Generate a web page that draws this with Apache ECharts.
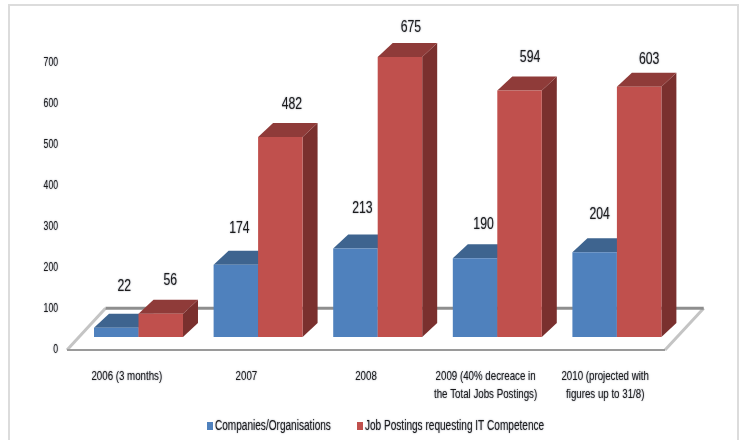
<!DOCTYPE html>
<html>
<head>
<meta charset="utf-8">
<style>
  html, body { margin: 0; padding: 0; background: #fff; }
  #main { width: 744px; height: 440px; }
</style>
<script src="https://cdn.jsdelivr.net/npm/echarts@6/dist/echarts.min.js"></script>
</head>
<body>
<div id="main"></div>
<script>
const categories = [
  '2006 (3 months)',
  '2007',
  '2008',
  '2009 (40% decreace in\nthe Total Jobs Postings)',
  '2010 (projected with\nfigures up to 31/8)'
];
const companies = [22, 174, 213, 190, 204];
const jobPostings = [56, 482, 675, 594, 603];
const seriesNames = ['Companies/Organisations', 'Job Postings requesting IT Competence'];

const font = '"Liberation Sans", sans-serif';
const ink = '#1c1c1c';
// no condensed font is installed, so all text gets squeezed sideways after render
const textSqueeze = 0.72;

// bars stand back from the front edge of the floor
const standX = 11.7, standY = -13;
// the bars' plane runs a little taller than the tick labels
const barStretch = 1.012;
// depth of a bar
const depthX = 15, depthY = -14;
// hand placed data labels, [right of bar centre, above back top edge]
const blueLabelShift = [[8, 28], [3.5, 22], [7, 26], [8.5, 20], [5, 24]];
const redLabelShift = [[9.5, 19], [11.5, 19], [11, 15.5], [10.5, 19], [10, 13]];

function barRenderer(side, colors, shifts) {
  return function (params, api) {
    const i = api.value(0), val = api.value(1);
    const base = api.coord([i, 0]);
    const top = api.coord([i, val]);
    const w = api.size([1, 0])[0] * 0.372;
    const x0 = base[0] + standX + (side < 0 ? -w : 0);
    const x1 = x0 + w;
    const y0 = base[1] + standY;
    const y1 = y0 - (base[1] - top[1]) * barStretch;
    const poly = (points, fill) => ({ type: 'polygon', shape: { points: points }, style: { fill: fill } });
    const shift = shifts[params.dataIndex];
    return {
      type: 'group',
      children: [
        poly([[x1, y0], [x1 + depthX, y0 + depthY], [x1 + depthX, y1 + depthY], [x1, y1]], colors.side),
        poly([[x0, y1], [x1, y1], [x1 + depthX, y1 + depthY], [x0 + depthX, y1 + depthY]], colors.top),
        { type: 'rect', shape: { x: x0, y: y1, width: w, height: y0 - y1 }, style: { fill: colors.front } },
        {
          type: 'text',
          x: (x0 + x1) / 2 + shift[0],
          y: y1 + depthY - shift[1],
          style: {
            text: String(val),
            align: 'center',
            verticalAlign: 'middle',
            font: '17px ' + font,
            fill: ink
          }
        }
      ]
    };
  };
}

function floorRenderer(params) {
  const c = params.coordSys;
  const fl = [c.x, c.y + c.height], fr = [c.x + c.width, c.y + c.height];
  const bl = [c.x + 38.5, c.y + c.height - 41.7], br = [c.x + c.width + 38.7, c.y + c.height - 41.7];
  const line = (a, b, color, width) => ({
    type: 'line',
    shape: { x1: a[0], y1: a[1], x2: b[0], y2: b[1] },
    style: { stroke: color, lineWidth: width }
  });
  return {
    type: 'group',
    children: [
      line(bl, fl, '#c4c4c4', 3),
      line(br, fr, '#c4c4c4', 3),
      line(bl, br, '#8e8e8e', 3),
      line(fl, fr, '#9a9a9a', 2)
    ]
  };
}

function legendAt(left, name) {
  return {
    left: left,
    top: 419,
    padding: 0,
    icon: 'rect',
    itemWidth: 6,
    itemHeight: 8,
    data: [name],
    textStyle: { fontFamily: font, fontSize: 14, color: ink }
  };
}

const chart = echarts.init(document.getElementById('main'), null, { renderer: 'canvas' });
chart.setOption({
  animation: false,
  backgroundColor: '#fff',
  graphic: [
    {
      type: 'rect',
      shape: { x: 9, y: 5, width: 729, height: 460 },
      style: { fill: 'none', stroke: '#dcdcdc', lineWidth: 2 },
      silent: true,
      z: -1
    }
  ],
  grid: { left: 67, right: 79, top: 63, bottom: 90 },
  legend: [legendAt(207, seriesNames[0]), legendAt(357, seriesNames[1])],
  xAxis: {
    type: 'category',
    data: categories,
    axisLine: { show: false },
    axisTick: { show: false },
    axisLabel: {
      interval: 0,
      margin: 17,
      fontFamily: font,
      fontSize: 13.5,
      lineHeight: 18,
      color: ink
    }
  },
  yAxis: {
    type: 'value',
    min: 0,
    max: 700,
    interval: 100,
    axisLine: { show: false },
    axisTick: { show: false },
    splitLine: { show: false },
    axisLabel: { margin: 9, fontFamily: font, fontSize: 12, color: ink, padding: [2, 0, 0, 0] }
  },
  series: [
    {
      type: 'custom',
      silent: true,
      renderItem: floorRenderer,
      data: [[0, 0]],
      z: 1
    },
    {
      name: seriesNames[0],
      type: 'custom',
      itemStyle: { color: '#4f81bd' },
      renderItem: barRenderer(-1, { front: '#4f81bd', top: '#3e648f', side: '#35567c' }, blueLabelShift),
      data: companies.map((v, i) => [i, v]),
      z: 2
    },
    {
      name: seriesNames[1],
      type: 'custom',
      itemStyle: { color: '#c0504d' },
      renderItem: barRenderer(1, { front: '#c0504d', top: '#8f3b39', side: '#7a302e' }, redLabelShift),
      data: jobPostings.map((v, i) => [i, v]),
      z: 3
    }
  ]
});

// squeeze every text around its own anchor, the soft shadow thickens it like the blurry original
const zr = chart.getZr();
zr.storage.getRoots().forEach(function (root) {
  root.traverse(function (el) {
    if (el.type === 'text') {
      el.scaleX = textSqueeze;
      el.setStyle({ textShadowBlur: 1.5, textShadowColor: 'rgba(20, 30, 60, 0.55)' });
      el.markRedraw();
    }
  });
});
zr.refreshImmediately();
</script>
</body>
</html>
